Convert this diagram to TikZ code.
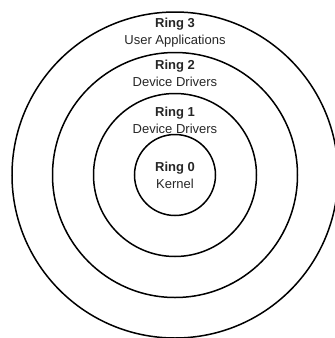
\documentclass[tikz,border=0pt]{standalone}
\usepackage{fontspec}
\setmainfont{Liberation Sans}
\begin{document}
\begin{tikzpicture}[x=1pt,y=1pt,
  ring/.style={circle,draw=black,line width=1.5pt,inner sep=0pt},
  lbl/.style={align=center,font=\fontsize{13}{17}\selectfont,text=black!85,inner sep=0pt}]
\useasboundingbox (0,0) rectangle (335,-338);
\begin{scope}
\clip (0,0) rectangle (335,-338);
\coordinate (c) at (175,-175);
\node[ring,minimum size=326pt] (r3) at (c) {};
\node[ring,minimum size=245pt] (r2) at (c) {};
\node[ring,minimum size=163pt] (r1) at (c) {};
\node[ring,minimum size=81pt] (r0) at (c) {};
\end{scope}
\node[lbl] (t3) at (175,-33) {\textbf{Ring 3}\\User Applications};
\node[lbl] (t2) at (175,-73) {\textbf{Ring 2}\\Device Drivers};
\node[lbl] (t1) at (175,-120.5) {\textbf{Ring 1}\\Device Drivers};
\node[lbl] (t0) at (175,-175.5) {\textbf{Ring 0}\\Kernel};
\end{tikzpicture}
\end{document}
